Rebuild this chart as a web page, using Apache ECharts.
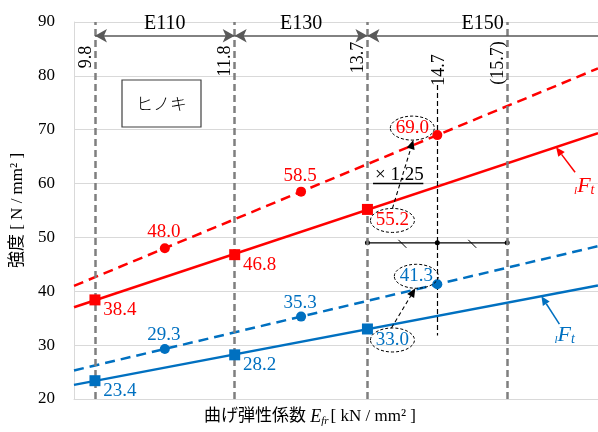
<!DOCTYPE html>
<html>
<head>
<meta charset="utf-8">
<script src="https://cdn.jsdelivr.net/npm/echarts@6/dist/echarts.min.js"></script>
<style>
  html, body { margin: 0; padding: 0; background: #fff; }
  #chart { width: 598px; height: 432px; }
</style>
</head>
<body>
<div id="chart"></div>
<script>
// axis ranges
const xMin = 9.5;
const xMax = 17;
const yMin = 20;
const yMax = 90;
const yStep = 10;

// grade boundaries
const gradeX = [9.8, 11.8, 13.7, 15.7];
const gradeText = ['9.8', '11.8', '13.7', '(15.7)'];
const rankNames = ['E110', 'E130', 'E150'];
const rankFrom = [9.8, 11.8, 13.7];
const rankTo = [11.8, 13.7, 17];

// strength values
const baseX = [9.8, 11.8, 13.7];
const shiftX = [10.8, 12.75, 14.7];
const redBase = [38.4, 46.8, 55.2];
const redShift = [48.0, 58.5, 69.0];
const blueBase = [23.4, 28.2, 33.0];
const blueShift = [29.3, 35.3, 41.3];

// E150 interval bar
const barX = [13.7, 14.7, 15.7];
const barY = 49;
const slashX = [14.2, 15.2];

const RED = '#ff0000';
const BLUE = '#0070c0';
const GUIDE = '#7f7f7f';
const serif = '"Liberation Serif", "Noto Sans CJK JP", serif';

// least squares line through the points
function fit(xs, ys) {
  const n = xs.length;
  const mx = xs.reduce((a, b) => a + b) / n;
  const my = ys.reduce((a, b) => a + b) / n;
  let sxy = 0, sxx = 0;
  for (let i = 0; i < n; i++) {
    sxy += (xs[i] - mx) * (ys[i] - my);
    sxx += (xs[i] - mx) * (xs[i] - mx);
  }
  const k = sxy / sxx;
  return x => my + k * (x - mx);
}
const fRedBase = fit(baseX, redBase);
const fRedShift = fit(shiftX, redShift);
const fBlueBase = fit(baseX, blueBase);
const fBlueShift = fit(shiftX, blueShift);

function trend(f) {
  return [[xMin, f(xMin)], [xMax, f(xMax)]];
}

// label offsets (from symbol centre)
const offBase = [[25, 10], [25, 10], [25, 11]];
const offRedShift = [[-1, -16], [-1, -16], [-25, -7]];
const offBlueShift = [[-1, -14], [-1, -14], [-21, -8]];

function pts(xs, ys, offs) {
  return xs.map((x, i) => ({ value: [x, ys[i]], label: { offset: offs[i] } }));
}

function pointSeries(xs, ys, offs, color, symbol, size) {
  return {
    type: 'scatter',
    z: 5,
    symbol: symbol,
    symbolSize: size,
    itemStyle: { color: color, opacity: 1 },
    label: {
      show: true,
      position: 'inside',
      color: color,
      fontFamily: serif,
      fontSize: 19,
      formatter: p => p.value[1].toFixed(1)
    },
    data: pts(xs, ys, offs)
  };
}

function lineSeries(f, color, dashed) {
  return {
    type: 'line',
    z: 4,
    symbol: 'none',
    silent: true,
    lineStyle: { color: color, width: 2.5, type: dashed ? [10, 6] : 'solid' },
    data: trend(f)
  };
}

const yArrow = 87.45;

const chart = echarts.init(document.getElementById('chart'));

const option = {
  animation: false,
  backgroundColor: '#fff',
  grid: { left: 74, right: 0, top: 22, bottom: 28 },
  xAxis: {
    type: 'value',
    min: xMin,
    max: xMax,
    axisLine: { show: true, lineStyle: { color: '#d9d9d9' } },
    axisTick: { show: false },
    axisLabel: { show: false },
    splitLine: { show: false },
    name: '{a|曲げ弾性係数 }{e|E}{s|fr}{a|[ kN / mm² ]}',
    nameLocation: 'middle',
    nameGap: 8,
    nameTextStyle: {
      verticalAlign: 'top',
      padding: [0, 52, 0, 0],
      rich: {
        a: { fontFamily: serif, fontSize: 17, color: '#000' },
        e: { fontFamily: serif, fontSize: 18, fontStyle: 'italic', color: '#000' },
        s: { fontFamily: serif, fontSize: 11, fontStyle: 'italic', color: '#000', padding: [9, 2, 0, 0] }
      }
    }
  },
  yAxis: {
    type: 'value',
    min: yMin,
    max: yMax,
    interval: yStep,
    axisLine: { show: true, lineStyle: { color: '#d9d9d9' } },
    axisTick: { show: false },
    axisLabel: { color: '#000', fontFamily: serif, fontSize: 17, margin: 19 },
    splitLine: { lineStyle: { color: '#d9d9d9', width: 1 } },
    name: '強度 [ N / mm² ]',
    nameLocation: 'middle',
    nameRotate: 90,
    nameGap: 48,
    nameTextStyle: { fontFamily: serif, fontSize: 17, color: '#000' }
  },
  series: [
    // grade guides
    {
      type: 'line',
      z: 2,
      data: barX.map(x => [x, barY]),
      symbol: 'circle',
      symbolSize: 5,
      itemStyle: { color: '#000' },
      lineStyle: { color: '#000', width: 1.2 },
      silent: true,
      markLine: {
        silent: true,
        symbol: 'none',
        label: { show: false },
        lineStyle: { color: GUIDE, type: [7, 4], width: 2.5 },
        data: gradeX.map(x => ({ xAxis: x })).concat([
          [
            { coord: [14.7, 78.3], lineStyle: { color: '#000', type: [5, 3], width: 1.2 } },
            { coord: [14.7, 31.8] }
          ]
        ])
      }
    },
    // rank arrows
    {
      type: 'line',
      z: 2,
      data: [],
      markLine: {
        silent: true,
        symbolSize: [10, 12],
        lineStyle: { color: '#595959', type: 'solid', width: 1.6 },
        label: {
          show: true,
          position: 'middle',
          distance: 2,
          color: '#000',
          fontFamily: serif,
          fontSize: 20
        },
        data: rankNames.map((n, i) => [
          { coord: [rankFrom[i], yArrow], symbol: 'arrow', name: n },
          { coord: [rankTo[i], yArrow], symbol: i === rankNames.length - 1 ? 'none' : 'arrow' }
        ])
      }
    },
    lineSeries(fRedShift, RED, true),
    lineSeries(fRedBase, RED, false),
    lineSeries(fBlueShift, BLUE, true),
    lineSeries(fBlueBase, BLUE, false),
    pointSeries(shiftX, redShift, offRedShift, RED, 'circle', 10),
    pointSeries(baseX, redBase, offBase, RED, 'rect', 11),
    pointSeries(shiftX, blueShift, offBlueShift, BLUE, 'circle', 10),
    pointSeries(baseX, blueBase, offBase, BLUE, 'rect', 11)
  ]
};
chart.setOption(option);

// annotations placed from data coordinates
const px = v => chart.convertToPixel({ gridIndex: 0 }, v);

function arrow(p0, p1, color, width, dash, head) {
  const dx = p1[0] - p0[0], dy = p1[1] - p0[1];
  const len = Math.hypot(dx, dy), ux = dx / len, uy = dy / len;
  const bx = p1[0] - ux * head, by = p1[1] - uy * head;
  const w = head * 0.45;
  return [
    { type: 'line', z: 10, shape: { x1: p0[0], y1: p0[1], x2: bx, y2: by },
      style: { stroke: color, lineWidth: width, lineDash: dash } },
    { type: 'polygon', z: 10, shape: { points: [[p1[0], p1[1]], [bx - uy * w, by + ux * w], [bx + uy * w, by - ux * w]] },
      style: { fill: color } }
  ];
}

function ellipseAt(x, y, off) {
  const p = px([x, y]);
  return { cx: p[0] + off[0], cy: p[1] + off[1] };
}

const g = [];
const rx = 22, ry = 12;
const eRB = ellipseAt(baseX[2], redBase[2], offBase[2]);
const eRS = ellipseAt(shiftX[2], redShift[2], offRedShift[2]);
const eBB = ellipseAt(baseX[2], blueBase[2], offBase[2]);
const eBS = ellipseAt(shiftX[2], blueShift[2], offBlueShift[2]);
[eRB, eRS, eBB, eBS].forEach(e => {
  g.push({ type: 'ellipse', z: 9, shape: { cx: e.cx, cy: e.cy, rx: rx, ry: ry },
    style: { fill: 'none', stroke: '#000', lineWidth: 1, lineDash: [3, 2] } });
});
g.push(...arrow([eRB.cx, eRB.cy - ry], [eRS.cx + 1, eRS.cy + ry], '#000', 1.1, [4, 3], 9));
g.push(...arrow([eBB.cx - 1, eBB.cy - ry], [eBS.cx - 1, eBS.cy + ry], '#000', 1.1, [4, 3], 9));

// × 1.25
const u0 = px([13.78, 60]), u1 = px([14.5, 60]);
g.push({ type: 'line', z: 9, shape: { x1: u0[0], y1: u0[1], x2: u1[0], y2: u1[1] },
  style: { stroke: '#000', lineWidth: 1.6 } });
g.push({ type: 'text', z: 9, x: u0[0] + 2, y: u0[1] - 9,
  style: { text: '× 1.25', font: '19px ' + serif, fill: '#000', textAlign: 'left', textVerticalAlign: 'middle', align: 'left', verticalAlign: 'middle' } });

// slashes on the interval bar
slashX.forEach(x => {
  const p = px([x, barY]);
  g.push({ type: 'line', z: 9, shape: { x1: p[0] - 4, y1: p[1] - 3, x2: p[0] + 4, y2: p[1] + 5 },
    style: { stroke: '#000', lineWidth: 1 } });
});

// rotated grade labels
const gradeLabelY = [57, 61, 57.5, 63];
gradeX.forEach((x, i) => {
  const p = px([x, yMax]);
  g.push({ type: 'text', z: 9, x: p[0] - 9, y: gradeLabelY[i], rotation: Math.PI / 2,
    style: { text: gradeText[i], font: '18px ' + serif, fill: '#000', textAlign: 'center', textVerticalAlign: 'middle', align: 'center', verticalAlign: 'middle' } });
});
const p147 = px([14.7, yMax]);
g.push({ type: 'text', z: 9, x: p147[0] + 2, y: 70, rotation: Math.PI / 2,
  style: { text: '14.7', font: '18px ' + serif, fill: '#000', textAlign: 'center', textVerticalAlign: 'middle', align: 'center', verticalAlign: 'middle' } });

// ヒノキ box
g.push({ type: 'rect', z: 9, shape: { x: 122, y: 80, width: 79, height: 47 },
  style: { fill: '#fff', stroke: '#404040', lineWidth: 1.2 } });
g.push({ type: 'text', z: 10, x: 161.5, y: 104,
  style: { text: 'ヒノキ', font: '300 17px "Noto Sans CJK JP"', fill: '#000', textAlign: 'center', textVerticalAlign: 'middle', align: 'center', verticalAlign: 'middle' } });

// lFt labels with arrows
function ftLabel(f, x, color, tail, textPos) {
  const tip = px([x, f(x)]);
  const t = [tip[0] + tail[0], tip[1] + tail[1]];
  g.push(...arrow(t, tip, color, 1.5, null, 9));
  g.push({ type: 'text', z: 10, x: tip[0] + textPos[0], y: tip[1] + textPos[1],
    style: {
      text: '{l|l}{f|F}{t|t}',
      textAlign: 'left', textVerticalAlign: 'middle', align: 'left', verticalAlign: 'middle',
      rich: {
        l: { fontFamily: serif, fontStyle: 'italic', fontSize: 11, fill: color, color: color, padding: [9, 0, 0, 0] },
        f: { fontFamily: serif, fontStyle: 'italic', fontSize: 22, fill: color, color: color },
        t: { fontFamily: serif, fontStyle: 'italic', fontSize: 14, fill: color, color: color, padding: [9, 0, 0, 0] }
      }
    } });
}
ftLabel(fRedBase, 16.4, RED, [19, 25], [18, 39]);
ftLabel(fBlueBase, 16.19, BLUE, [18, 28], [13, 39]);

chart.setOption({ graphic: g });
</script>
</body>
</html>
